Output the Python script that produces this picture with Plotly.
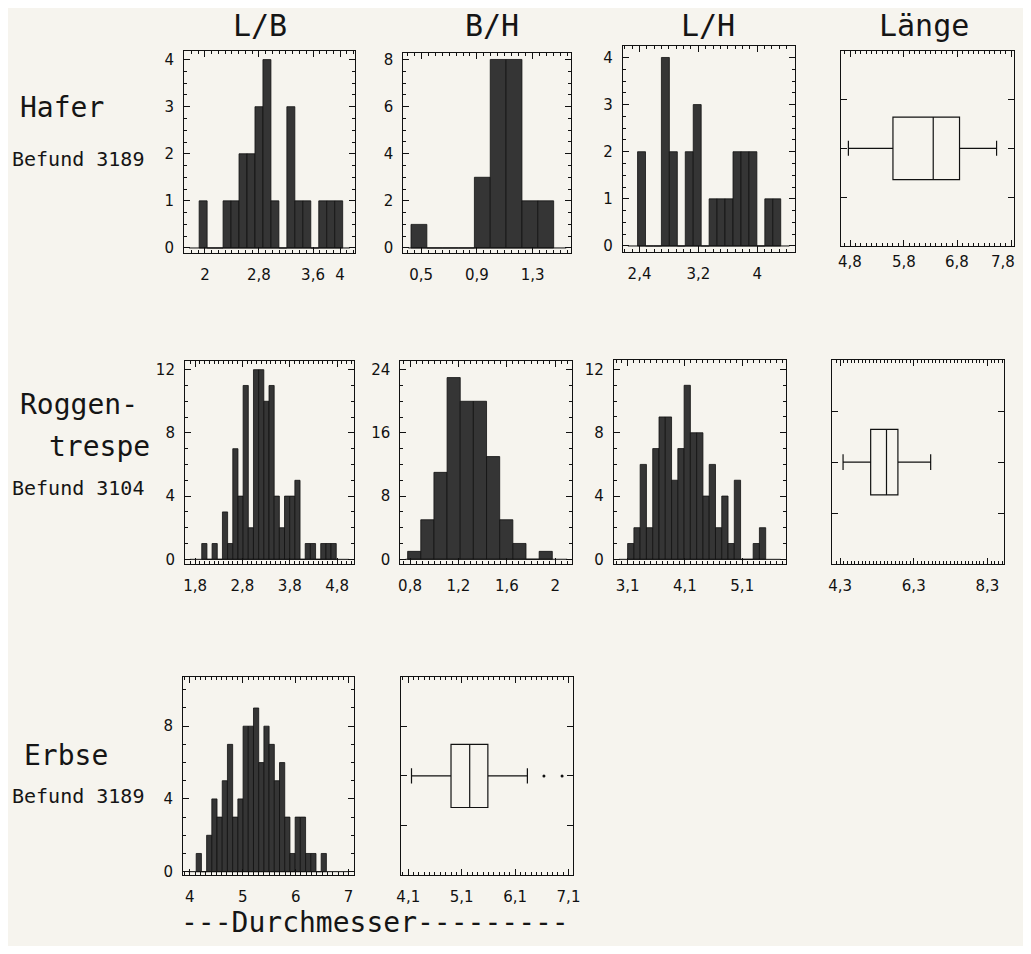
import plotly.graph_objects as go

# page is 1031x954; the html body adds an 8px margin, so the figure is 1015x938
PW, PH = 1031, 954
OFF = 8
W, H = PW - 2 * OFF, PH - 2 * OFF

# ---------------- data ----------------
# Hafer, Befund 3189
hafer_lb_start, hafer_lb_width = 1.915, 0.118
hafer_lb_counts = [1, 0, 0, 1, 1, 2, 2, 3, 4, 1, 0, 3, 1, 1, 0, 1, 1, 1]
hafer_bh_start, hafer_bh_width = 0.427, 0.1137
hafer_bh_counts = [1, 0, 0, 0, 3, 8, 8, 2, 2]
hafer_lh_start, hafer_lh_width = 2.373, 0.1082
hafer_lh_counts = [2, 0, 0, 4, 2, 0, 2, 3, 0, 1, 1, 1, 2, 2, 2, 0, 1, 1]
hafer_laenge_stats = [4.77, 5.60, 6.35, 6.84, 7.53]   # lo, q1, median, q3, hi

# Roggentrespe, Befund 3104
rog_lb_start, rog_lb_width = 1.94, 0.1093
rog_lb_counts = [1, 0, 1, 0, 3, 1, 7, 4, 11, 2, 12, 12, 10, 11, 4, 2, 4, 4, 5, 0, 1, 1, 0, 1, 1, 1]
rog_bh_start, rog_bh_width = 0.78, 0.1087
rog_bh_counts = [1, 5, 11, 23, 20, 20, 13, 5, 2, 0, 1]
rog_lh_start, rog_lh_width = 3.10, 0.1095
rog_lh_counts = [1, 2, 6, 2, 7, 9, 9, 5, 7, 11, 8, 8, 4, 6, 2, 4, 1, 5, 0, 0, 1, 2]
rog_laenge_stats = [4.38, 5.13, 5.56, 5.87, 6.76]

# Erbse, Befund 3189 (Durchmesser)
erbse_d_start, erbse_d_width = 4.12, 0.0984
erbse_d_counts = [1, 0, 2, 4, 3, 5, 7, 3, 4, 8, 8, 9, 6, 8, 7, 5, 6, 3, 1, 3, 3, 1, 1, 0, 1]
erbse_box_stats = [4.16, 4.90, 5.25, 5.59, 6.33]
erbse_box_outliers = [6.64, 6.98]

# tick labels
hafer_lb_ticks = [2, 2.8, 3.6, 4];   hafer_lb_text = ["2", "2,8", "3,6", "4"]
hafer_bh_ticks = [0.5, 0.9, 1.3];    hafer_bh_text = ["0,5", "0,9", "1,3"]
hafer_lh_ticks = [2.4, 3.2, 4];      hafer_lh_text = ["2,4", "3,2", "4"]
hafer_la_ticks = [4.8, 5.8, 6.8, 7.8]; hafer_la_text = ["4,8", "5,8", "6,8", "7,8"]
rog_lb_ticks = [1.8, 2.8, 3.8, 4.8]; rog_lb_text = ["1,8", "2,8", "3,8", "4,8"]
rog_bh_ticks = [0.8, 1.2, 1.6, 2];   rog_bh_text = ["0,8", "1,2", "1,6", "2"]
rog_lh_ticks = [3.1, 4.1, 5.1];      rog_lh_text = ["3,1", "4,1", "5,1"]
rog_la_ticks = [4.3, 6.3, 8.3];      rog_la_text = ["4,3", "6,3", "8,3"]
erb_d_ticks = [4, 5, 6, 7];          erb_d_text = ["4", "5", "6", "7"]
erb_b_ticks = [4.1, 5.1, 6.1, 7.1];  erb_b_text = ["4,1", "5,1", "6,1", "7,1"]

# ---------------- style ----------------
BG = "#f6f4ee"
BAR = "#353535"
MONO = "DejaVu Sans Mono"
SANS = "DejaVu Sans"
TICKSIZE = 15

fig = go.Figure()
layout = dict(width=W, height=H, margin=dict(l=0, r=0, t=0, b=0), autosize=False,
              paper_bgcolor=BG, plot_bgcolor=BG, showlegend=False,
              font=dict(family=SANS, color="#1a1a1a"))
ann = []


def fx(p):
    return (p - OFF) / W


def fy(p):
    return 1 - (p - OFF) / H


def dom(x0, x1, y0, y1):
    return [fx(x0), fx(x1)], [fy(y1), fy(y0)]


def add_axes(i, box, xr, yr, xt, xtxt, yt, ytxt, xminor, yminor, xlabels_as_text=False):
    xd, yd = dom(*box)
    sx = "" if i == 1 else str(i)
    common = dict(showline=True, linecolor="#111", linewidth=1, mirror="allticks",
                  ticks="inside", ticklen=6, tickcolor="#111", showgrid=False,
                  zeroline=False, fixedrange=True,
                  tickfont=dict(family=SANS, size=TICKSIZE, color="#111"))
    ymin = dict(ticks="inside", ticklen=3, dtick=yminor, tickcolor="#111") if yminor else dict(ticks="")
    layout["xaxis" + sx] = dict(domain=xd, range=xr, anchor="y" + sx,
                                tickmode="array", tickvals=xt,
                                ticktext=[""] * len(xt) if xlabels_as_text else xtxt,
                                minor=dict(ticks="inside", ticklen=3, dtick=xminor, tickcolor="#111"),
                                ticklabelstandoff=8, **common)
    layout["yaxis" + sx] = dict(domain=yd, range=yr, anchor="x" + sx,
                                tickmode="array", tickvals=yt, ticktext=ytxt,
                                minor=ymin, ticklabelstandoff=6, **common)
    if xlabels_as_text:
        # last label would run past the page edge: keep it inside
        for k, (v, t) in enumerate(zip(xt, xtxt)):
            last = k == len(xt) - 1
            ann.append(dict(text=t, x=v, xref="x" + sx, y=fy(box[3] + 16), yref="paper",
                            xanchor="right" if last else "center", yanchor="middle",
                            xshift=6 if last else 0, showarrow=False,
                            font=dict(family=SANS, size=TICKSIZE, color="#111")))
    return "x" + sx, "y" + sx


def add_hist(i, start, width, counts, box, xr, yr, xt, xtxt, yt, xminor, yminor):
    xa, ya = add_axes(i, box, xr, yr, xt, xtxt, yt, [str(v) for v in yt], xminor, yminor)
    centers = [start + (k + 0.5) * width for k in range(len(counts))]
    fig.add_trace(go.Bar(x=centers, y=counts, width=width, xaxis=xa, yaxis=ya,
                         marker=dict(color=BAR, line=dict(color="#111", width=0.8))))
    # baseline at zero
    fig.add_shape(type="line", xref=xa, yref=ya, x0=xr[0] + (xr[1] - xr[0]) * 0.03,
                  x1=xr[1] - (xr[1] - xr[0]) * 0.03, y0=0, y1=0,
                  line=dict(color="#111", width=1))


def add_box(i, stats, box, xr, xt, xtxt, xminor, outliers=None, xlabels_as_text=False):
    xa, ya = add_axes(i, box, xr, [-1, 1], xt, xtxt, [-0.5, 0, 0.5], ["", "", ""], xminor, None,
                      xlabels_as_text)
    lo, q1, med, q3, hi = stats
    fig.add_trace(go.Box(y=[0], q1=[q1], median=[med], q3=[q3], lowerfence=[lo], upperfence=[hi],
                         orientation="h", width=0.64, whiskerwidth=0.24,
                         fillcolor="rgba(0,0,0,0)", line=dict(color="#111", width=1.2),
                         boxpoints=False, xaxis=xa, yaxis=ya))
    if outliers:
        fig.add_trace(go.Scatter(x=outliers, y=[0] * len(outliers), mode="markers",
                                 marker=dict(color="#111", size=3), xaxis=xa, yaxis=ya))


# Row 1: Hafer
add_hist(1, hafer_lb_start, hafer_lb_width, hafer_lb_counts, (181, 354, 49, 253),
         [1.69, 4.22], [-0.105, 4.19], hafer_lb_ticks, hafer_lb_text, [0, 1, 2, 3, 4], 0.1, 0.25)
add_hist(2, hafer_bh_start, hafer_bh_width, hafer_bh_counts, (403, 573, 51, 253),
         [0.372, 1.577], [-0.21, 8.29], hafer_bh_ticks, hafer_bh_text, [0, 2, 4, 6, 8], 0.05, 0.5)
add_hist(3, hafer_lh_start, hafer_lh_width, hafer_lh_counts, (625, 799, 44, 252),
         [2.171, 4.51], [-0.126, 4.25], hafer_lh_ticks, hafer_lh_text, [0, 1, 2, 3, 4], 0.1, 0.25)
add_box(4, hafer_laenge_stats, (846, 1021, 49, 246), [4.634, 7.855],
        hafer_la_ticks, hafer_la_text, 0.1, xlabels_as_text=True)

# Row 2: Roggentrespe
add_hist(5, rog_lb_start, rog_lb_width, rog_lb_counts, (182, 353, 362, 567),
         [1.585, 5.155], [-0.31, 12.55], rog_lb_ticks, rog_lb_text, [0, 4, 8, 12], 0.1, 1)
add_hist(6, rog_bh_start, rog_bh_width, rog_bh_counts, (400, 574, 362, 567),
         [0.72, 2.141], [-0.63, 25.1], rog_bh_ticks, rog_bh_text, [0, 8, 16, 24], 0.05, 2)
add_hist(7, rog_lh_start, rog_lh_width, rog_lh_counts, (616, 790, 361, 567),
         [2.859, 5.859], [-0.31, 12.6], rog_lh_ticks, rog_lh_text, [0, 4, 8, 12], 0.1, 1)
add_box(8, rog_laenge_stats, (837, 1011, 361, 567), [4.085, 8.756],
        rog_la_ticks, rog_la_text, 0.1)

# Row 3: Erbse
add_hist(9, erbse_d_start, erbse_d_width, erbse_d_counts, (180, 353, 681, 880),
         [3.87, 7.1], [-0.16, 10.69], erb_d_ticks, erb_d_text, [0, 4, 8], 0.1, 1)
add_box(10, erbse_box_stats, (401, 575, 681, 880), [3.97, 7.19],
        erb_b_ticks, erb_b_text, 0.1, erbse_box_outliers)

# ---------------- texts ----------------


def txt(s, x, y, size, anchor="center", family=MONO):
    ann.append(dict(text=s, x=fx(x), y=fy(y), xref="paper", yref="paper",
                    xanchor=anchor, yanchor="middle", showarrow=False,
                    font=dict(family=family, size=size, color="#151515")))


txt("L/B", 258, 24, 30)
txt("B/H", 493, 24, 30)
txt("L/H", 711, 24, 30)
txt("Länge", 930, 24, 30)

txt("Hafer", 13, 106, 28, "left")
txt("Befund 3189", 5, 158, 20, "left")
txt("Roggen-", 13, 406, 28, "left")
txt("trespe", 149, 448, 28, "right")
txt("Befund 3104", 5, 490, 20, "left")
txt("Erbse", 17, 760, 28, "left")
txt("Befund 3189", 5, 801, 20, "left")

txt("---Durchmesser---------", 176, 928, 28, "left")

layout["annotations"] = ann
fig.update_layout(**layout)
fig.write_html("out.html")
